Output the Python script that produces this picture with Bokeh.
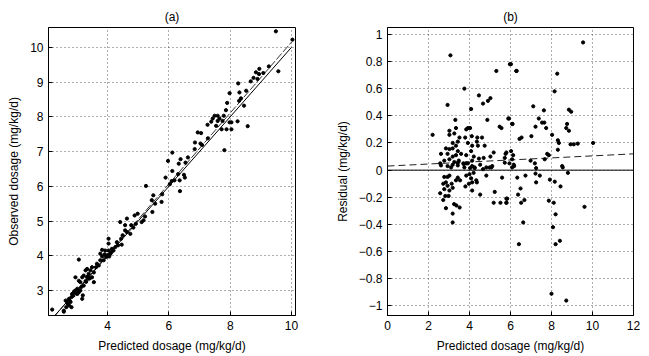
import numpy as np
from bokeh.plotting import figure
from bokeh.layouts import row
from bokeh.models import FixedTicker, Range1d, CustomJSTickFormatter
from bokeh.embed import file_html
from bokeh.resources import INLINE

# ---------------- data: panel (a) observed vs predicted ----------------
a_pred = [9.49, 10.03, 9.57, 9.26, 8.95, 8.84, 8.94, 9.08, 8.76, 8.67, 8.89, 8.26, 8.52, 8.30,
          8.35, 8.29, 8.45, 7.98, 7.90, 7.86, 7.79, 7.49, 7.59, 7.43, 7.38, 7.65, 7.75, 7.59,
          7.54, 7.26, 7.72, 7.88, 8.04, 7.98, 8.04, 8.24, 8.57, 7.81, 7.27, 6.94, 7.05, 7.03,
          7.08, 6.85, 6.84, 6.62, 6.38, 6.54, 6.11, 5.97, 6.32, 6.11, 6.30, 6.49, 6.52, 5.89,
          6.18, 6.09, 6.35, 6.03, 6.36, 5.78, 5.76, 5.49, 5.44, 5.25, 5.55, 5.46, 5.22, 4.98,
          4.88, 5.11, 5.17, 4.92, 4.63, 4.77, 4.57, 4.41, 4.57, 4.84, 4.74, 4.49, 4.63, 4.44,
          4.30, 4.34, 4.25, 4.14, 4.19, 4.09, 4.03, 4.03, 4.03, 3.92, 3.98, 4.05, 3.90, 3.82,
          3.87, 3.76, 3.65, 3.71, 3.62, 3.82, 3.76, 4.46, 3.06, 3.49, 3.44, 3.33, 3.28, 3.55,
          3.38, 3.33, 3.22, 3.17, 3.49, 3.38, 3.28, 3.11, 3.55, 2.95, 3.06, 3.22, 3.14, 3.01,
          2.95, 2.90, 3.06, 3.01, 2.84, 3.19, 3.17, 3.11, 2.82, 2.74, 2.68, 2.79, 2.63, 2.74,
          2.82, 2.65, 2.57, 2.19, 2.57, 4.00, 4.08, 3.95, 4.12, 3.35, 3.42, 3.30, 2.92, 2.98,
          3.04, 2.88, 2.70, 2.76]
a_obs = [10.46, 10.22, 9.31, 9.45, 9.38, 9.28, 9.23, 9.26, 9.12, 9.02, 9.09, 8.96, 8.75, 8.70,
         8.53, 8.46, 8.32, 8.68, 8.40, 8.19, 8.03, 8.03, 8.03, 7.95, 7.86, 7.95, 7.88, 7.88,
         7.74, 7.77, 7.64, 7.64, 7.64, 7.84, 7.84, 7.87, 7.73, 7.04, 7.38, 7.55, 7.53, 7.23,
         7.19, 7.26, 7.07, 6.83, 6.78, 6.68, 6.97, 6.73, 6.65, 6.44, 6.35, 6.33, 6.25, 6.25,
         6.17, 6.15, 6.17, 6.06, 5.86, 5.77, 5.55, 5.74, 5.60, 6.01, 5.50, 5.26, 5.13, 5.21,
         5.16, 4.97, 5.02, 4.92, 5.07, 4.88, 4.88, 4.97, 4.73, 4.81, 4.63, 4.59, 4.68, 4.49,
         4.39, 4.30, 4.25, 4.20, 4.15, 4.06, 4.15, 4.49, 4.35, 4.15, 3.98, 3.98, 4.04, 3.98,
         3.87, 3.87, 3.77, 3.72, 3.67, 4.17, 4.06, 4.32, 3.89, 3.67, 3.58, 3.62, 3.58, 3.52,
         3.48, 3.38, 3.43, 3.38, 3.38, 3.34, 3.27, 3.24, 3.24, 3.38, 3.28, 3.14, 3.10, 3.05,
         3.00, 2.95, 2.95, 2.90, 2.90, 2.86, 2.76, 3.00, 2.81, 2.76, 2.67, 2.67, 2.71, 2.57,
         2.52, 2.52, 2.42, 2.45, 2.39, 4.02, 4.05, 3.97, 4.10, 3.40, 3.35, 3.25, 2.98, 2.92,
         3.02, 2.85, 2.62, 2.70]

# reference line (y = x) and fitted line endpoints
ident_x = [2.25, 10.0]
fit_x = [2.25, 10.0]
fit_intercept = -0.05
fit_slope = 1.02

# ---------------- data: panel (b) residual vs predicted ----------------
b_pred = [3.07, 2.93, 2.20, 3.75, 4.08, 3.31, 5.31, 6.02, 6.30, 4.46, 4.66, 4.90, 5.02, 4.87,
          5.47, 5.56, 5.93, 6.10, 3.02, 3.34, 3.02, 3.26, 3.92, 3.84, 4.03, 3.51, 3.79, 4.11,
          4.38, 4.61, 4.74, 4.36, 4.41, 4.13, 3.92, 3.43, 3.34, 3.18, 2.85, 3.02, 3.18, 2.61,
          2.93, 3.43, 3.59, 3.84, 4.08, 4.21, 4.46, 4.69, 5.18, 5.02, 5.72, 5.80, 6.13, 3.18,
          3.34, 2.77, 3.02, 3.26, 3.48, 3.70, 3.92, 4.13, 2.57, 2.61, 3.10, 3.43, 3.75, 4.25,
          4.52, 4.98, 5.11, 4.03,
          2.93, 3.18, 3.43, 3.84, 4.13, 4.25, 4.66, 4.82, 5.07, 5.72, 6.18, 3.72,
          2.77, 2.93, 3.02, 2.85, 2.72, 2.93, 3.13, 2.77, 3.02, 3.18, 3.43, 3.54, 3.34, 3.84,
          4.00, 4.08, 4.20, 4.13, 3.97, 4.33, 4.36, 3.80, 4.13, 4.82, 4.52, 5.23, 5.59, 5.18,
          5.51, 5.80, 5.84, 2.57, 2.82, 2.72, 2.98, 2.85, 3.25, 3.36, 3.52, 3.18, 3.18,
          9.54, 5.97, 6.28, 8.28, 8.15, 7.11, 7.63, 5.89, 7.38, 7.54, 7.65, 7.22, 7.74, 8.85,
          8.96, 8.76, 8.72, 8.85, 6.08, 7.02, 6.54, 6.44, 8.03, 8.31, 8.36, 8.93, 9.09, 9.28,
          10.03, 8.31, 7.79, 7.87, 6.03, 5.76, 6.08, 6.98, 7.19, 5.95, 7.67, 6.16, 7.25, 8.52,
          6.08,
          6.33, 6.73, 7.22, 7.43, 7.25, 7.92, 8.16, 8.44, 8.80, 6.49, 6.37, 6.52, 6.68, 5.80,
          5.80, 7.87, 8.11, 9.61, 8.20, 6.62, 8.07, 6.41, 8.20, 8.41, 8.00, 8.72, 8.55]
b_resid = [0.845, 0.48, 0.26, 0.60, 0.45, 0.37, 0.73, 0.78, 0.73, 0.55, 0.49, 0.51, 0.53, 0.37,
           0.32, 0.31, 0.38, 0.34, 0.29, 0.31, 0.26, 0.27, 0.31, 0.30, 0.31, 0.24, 0.24, 0.25,
           0.24, 0.24, 0.18, 0.21, 0.18, 0.18, 0.20, 0.21, 0.18, 0.20, 0.16, 0.155, 0.16, 0.12,
           0.12, 0.14, 0.12, 0.11, 0.14, 0.10, 0.085, 0.09, 0.13, 0.10, 0.09, 0.13, 0.11, 0.10,
           0.11, 0.07, 0.08, 0.06, 0.07, 0.05, 0.05, 0.07, 0.05, 0.035, 0.02, 0.035, 0.02, 0.02,
           0.04, 0.02, 0.03, 0.015,
           0.03, 0.04, 0.055, 0.05, 0.03, 0.015, 0.007, 0.02, 0.02, 0.055, 0.03, 0.045,
           -0.05, -0.05, -0.04, -0.09, -0.10, -0.115, -0.10, -0.14, -0.15, -0.13, -0.055, -0.075,
           -0.075, -0.04, -0.03, -0.06, -0.02, -0.09, -0.10, -0.075, -0.09, -0.12, -0.15, -0.04,
           -0.18, -0.16, -0.055, -0.24, -0.24, -0.24, -0.21, -0.17, -0.19, -0.22, -0.19, -0.28,
           -0.25, -0.26, -0.275, -0.32, -0.385,
           0.94, 0.78, 0.73, 0.71, 0.58, 0.47, 0.44, 0.38, 0.38, 0.35, 0.35, 0.32, 0.31, 0.445,
           0.43, 0.34, 0.31, 0.29, 0.34, 0.25, 0.24, 0.23, 0.26, 0.22, 0.20, 0.19, 0.19, 0.195,
           0.20, 0.15, 0.12, 0.11, 0.14, 0.12, 0.08, 0.07, 0.05, 0.05, 0.08, 0.04, 0.015, 0.03,
           0.02,
           -0.055, -0.04, -0.025, -0.04, -0.09, -0.07, -0.085, -0.12, -0.02, -0.135, -0.18,
           -0.24, -0.22, -0.21, -0.24, -0.225, -0.24, -0.27, -0.325, -0.385, -0.42, -0.545,
           -0.545, -0.52, -0.91, -0.96, 0.02]

trend_x = [0.0, 12.0]
trend_y = [0.03, 0.12]
zero_x = [0.0, 12.0]
zero_y = [0.0, 0.0]

a_xticks = [4, 6, 8, 10]
a_yticks = [3, 4, 5, 6, 7, 8, 9, 10]
b_xticks = [0, 2, 4, 6, 8, 10, 12]
b_yticks = [-1, -0.8, -0.6, -0.4, -0.2, 0, 0.2, 0.4, 0.6, 0.8, 1]

FONT = "Liberation Sans"
fmt = CustomJSTickFormatter(code="""
var v = Math.round(tick*10)/10;
var s = v.toString();
return s.replace('-', '\u2212');
""")


def style(p, xt, yt, xlabel, ylabel):
    p.xaxis.ticker = FixedTicker(ticks=xt)
    p.yaxis.ticker = FixedTicker(ticks=yt)
    p.xaxis.formatter = fmt
    p.yaxis.formatter = fmt
    for ax in (p.xaxis[0], p.yaxis[0]):
        ax.major_label_text_font = FONT
        ax.major_label_text_font_size = "12px"
        ax.major_label_text_color = "black"
        ax.axis_label_text_font = FONT
        ax.axis_label_text_font_size = "12px"
        ax.axis_label_text_font_style = "normal"
        ax.axis_label_text_color = "black"
        ax.major_tick_in = 4
        ax.major_tick_out = 0
        ax.minor_tick_in = 0
        ax.minor_tick_out = 0
        ax.axis_line_color = "black"
        ax.major_tick_line_color = "black"
        ax.major_label_standoff = 5
        ax.axis_label_standoff = 6
    p.xaxis.axis_label = xlabel
    p.yaxis.axis_label = ylabel
    p.grid.grid_line_color = "#333333"
    p.grid.grid_line_dash = "1 3"
    p.grid.grid_line_width = 1
    p.grid.grid_line_alpha = 0.8
    p.outline_line_color = "black"
    p.outline_line_width = 1
    p.outline_line_alpha = 1
    p.title.align = "center"
    p.title.text_font = FONT
    p.title.text_font_size = "12px"
    p.title.text_font_style = "normal"
    p.title.text_color = "black"
    p.title.standoff = 8
    p.background_fill_color = "white"
    p.border_fill_color = "white"


p1 = figure(frame_width=247, frame_height=288, min_border_left=48, min_border_right=25,
            min_border_top=27, min_border_bottom=41,
            x_range=Range1d(2.07, 10.13), y_range=Range1d(2.28, 10.57),
            title="(a)", output_backend="svg", toolbar_location=None)
style(p1, a_xticks, a_yticks, "Predicted dosage (mg/kg/d)", "Observed dosage (mg/kg/d)")
p1.line(ident_x, ident_x, line_color="black", line_width=1)
fx = np.array(fit_x)
p1.line(fx, fit_intercept + fit_slope * fx, line_color="black", line_width=0.8, line_dash="8 2")
p1.scatter(a_pred, a_obs, size=3.2, color="black")

p2 = figure(frame_width=246, frame_height=288, min_border_left=67, min_border_right=16,
            min_border_top=27, min_border_bottom=41,
            x_range=Range1d(0, 12), y_range=Range1d(-1.07, 1.05),
            title="(b)", output_backend="svg", toolbar_location=None)
style(p2, b_xticks, b_yticks, "Predicted dosage (mg/kg/d)", "Residual (mg/kg/d)")
p2.line(zero_x, zero_y, line_color="black", line_width=1)
p2.line(trend_x, trend_y, line_color="#222222", line_width=1, line_dash="7 4")
p2.scatter(b_pred, b_resid, size=3.2, color="black")

layout = row(p1, p2)
open("out.html", "w").write(file_html(layout, INLINE))
